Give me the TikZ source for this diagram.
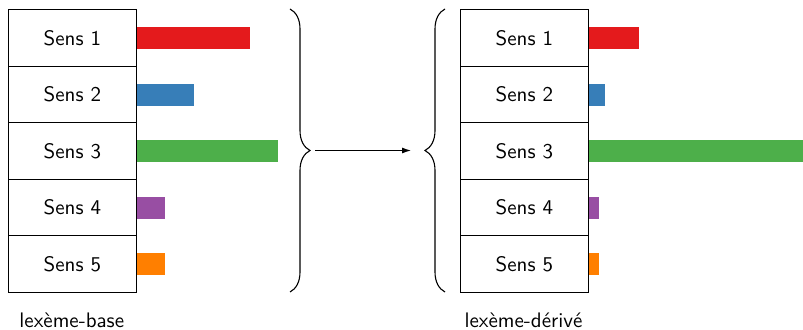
\documentclass[tikz,border=0pt]{standalone}
\usetikzlibrary{decorations.pathreplacing,arrows.meta}
\definecolor{sred}{HTML}{E41A1C}
\definecolor{sblue}{HTML}{377EB8}
\definecolor{sgreen}{HTML}{4DAF4A}
\definecolor{spurple}{HTML}{984EA3}
\definecolor{sorange}{HTML}{FF7F00}
\begin{document}
\begin{tikzpicture}[x=0.5pt,y=-0.5pt,
  font=\sffamily\fontsize{10.5}{12}\selectfont,
  sensbox/.style={draw=black, line width=0.6pt, minimum width=63.75pt, minimum height=28.25pt, inner sep=0pt, anchor=north west},
  bar/.style={fill=#1, draw=none, minimum height=11pt, inner sep=0pt, anchor=west},
  bracestyle/.style={draw=black, line width=0.55pt, decorate, decoration={brace, amplitude=10pt}},
  lbl/.style={inner sep=0pt}]
\useasboundingbox (0,0) rectangle (803,330);
\foreach \i/\l/\r/\c in {1/113/49.5/sred, 2/57/15.5/sblue, 3/141/215.5/sgreen, 4/28/10/spurple, 5/28/10/sorange}{
  \node[sensbox] (L\i) at (8, {9.25+(\i-1)*56.5}) {Sens \i};
  \node[bar=\c, minimum width={\l*0.5pt}] (LB\i) at (L\i.east) {};
  \node[sensbox] (R\i) at (460, {9.25+(\i-1)*56.5}) {Sens \i};
  \node[bar=\c, minimum width={\r*0.5pt}] (RB\i) at (R\i.east) {};
}
\coordinate (lbt) at (290,9);
\coordinate (lbb) at (290,292);
\coordinate (rbt) at (445,9);
\coordinate (rbb) at (445,292);
\draw[bracestyle] (lbt) -- (lbb);
\draw[bracestyle] (rbb) -- (rbt);
\coordinate (a1) at (315,150.5);
\coordinate (a2) at (411,150.5);
\draw[line width=0.5pt, -{Latex[length=4.5pt,width=3pt]}] (a1) -- (a2);
\node[lbl] (base) at (71.75,320) {lexème-base};
\node[lbl] (derive) at (523.5,320) {lexème-dérivé};
\end{tikzpicture}
\end{document}
